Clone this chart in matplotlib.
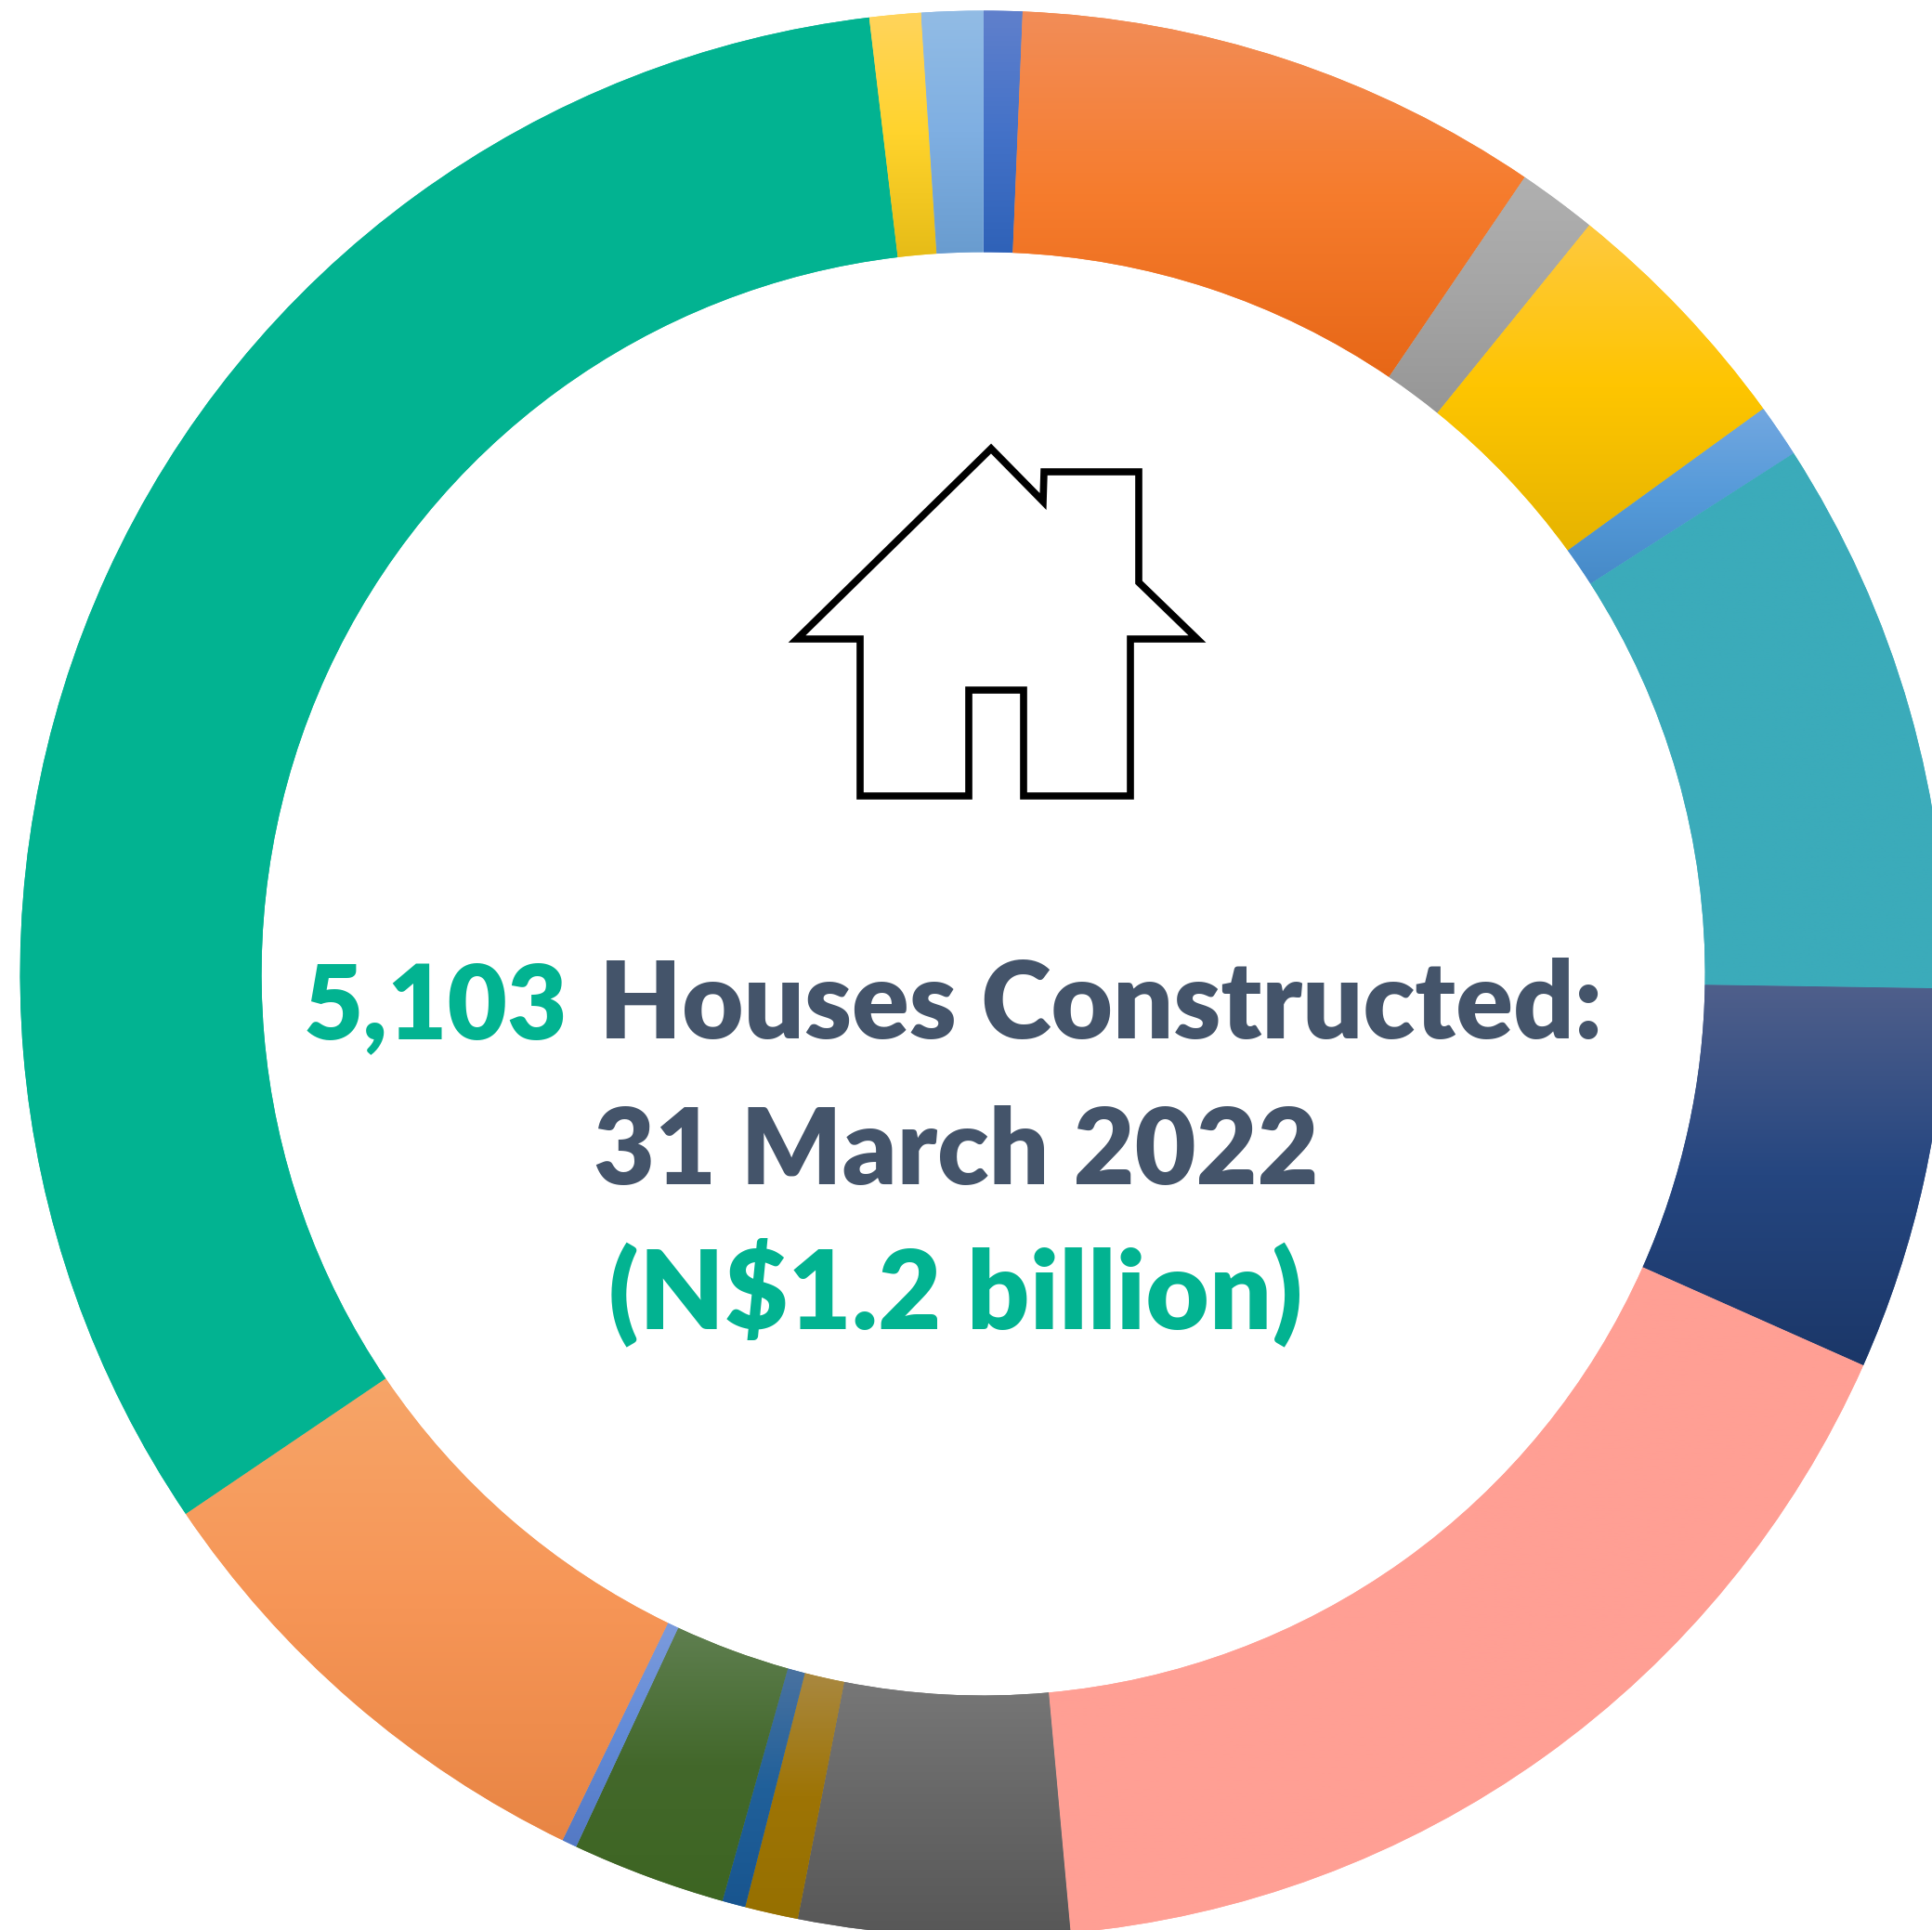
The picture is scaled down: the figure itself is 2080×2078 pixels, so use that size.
import numpy as np
from matplotlib import colors
from matplotlib import pyplot as plt

W, H = 2080, 2078
CX, CY, R = 1058.6, 1048.5, 1037.0
RING = 260.0 / R

plt.rcParams["font.family"] = ["Lato", "DejaVu Sans"]

# share of each ring segment in percent, clockwise from the top
shares = [0.65, 8.85, 1.33, 4.19, 0.89, 9.33, 6.42, 16.89, 4.53,
          0.89, 0.39, 2.58, 0.25, 8.33, 32.58, 0.86, 1.03]

# vertical gradient of each segment
tops = ["#6080CC", "#F28D58", "#B0B0B0", "#FFC93F", "#72A7E0", "#3BABBA",
        "#4F5F8B", "#FF9F94", "#777777", "#A98840", "#4A72A0", "#5F7F50",
        "#7C9BDC", "#F7A568", "#02B391", "#FFD45C", "#92BCE5"]
mids = ["#4472C8", "#F67C2D", "#A5A5A5", "#FEC500", "#559AD9", "#3BABBA",
        "#254680", "#FF9F94", "#666666", "#9E7405", "#20609A", "#43682B",
        "#628BD8", "#F69556", "#02B391", "#FFD32C", "#7FAFE2"]
bottoms = ["#2F62B8", "#E76717", "#969696", "#E6B400", "#468AC8", "#3BABBA",
           "#1B3768", "#FF9F94", "#575757", "#967000", "#18558F", "#3D6522",
           "#5479C4", "#E88544", "#02B391", "#E6BC17", "#699CCF"]

# outline of the house icon, in image pixels
house_x = [858, 1067, 1123, 1124, 1226, 1226, 1289, 1217, 1217, 1102, 1102,
           1043, 1043, 926, 926]
house_y = [688, 483, 540, 508, 508, 627, 688, 688, 857, 857, 743, 743, 857,
           857, 688]

GREEN = "#02B391"
SLATE = "#44546A"


def to_data(px, py):
    return (np.asarray(px) - CX) / R, (CY - np.asarray(py)) / R


fig = plt.figure(figsize=(W / 100, H / 100), dpi=100)
ax = fig.add_axes([0, 0, 1, 1])

wedges, _ = ax.pie(
    shares,
    colors=mids,
    startangle=90,
    counterclock=False,
    radius=1,
    wedgeprops={"width": RING, "linewidth": 0},
)

# fill each wedge with its own gradient, running over the wedge's height
for wedge, top, mid, bottom in zip(wedges, tops, mids, bottoms):
    # last vertex of a wedge path is the closing point at the centre
    verts = wedge.get_path().vertices[:-1]
    cmap = colors.LinearSegmentedColormap.from_list("seg", [top, mid, bottom])
    im = ax.imshow(
        np.linspace(0, 1, 256)[:, None],
        cmap=cmap,
        extent=[verts[:, 0].min(), verts[:, 0].max(), verts[:, 1].min(), verts[:, 1].max()],
        origin="upper",
        aspect="auto",
        zorder=2,
    )
    im.set_clip_path(wedge)

hx, hy = to_data(house_x, house_y)
ax.fill(hx, hy, fill=False, edgecolor="black", lw=5.5, joinstyle="miter", zorder=3)

ax.set_xlim(-CX / R, (W - CX) / R)
ax.set_ylim((CY - H) / R, CY / R)
ax.set_aspect("auto")
ax.axis("off")

x, y = to_data(327, 1118)
ax.text(x, y, "5,103", color=GREEN, fontsize=80, fontweight=800, ha="left", va="baseline", zorder=4)
x, y = to_data(645, 1118)
ax.text(x, y, "Houses Constructed:", color=SLATE, fontsize=82.5, fontweight=800, ha="left", va="baseline", zorder=4)
x, y = to_data(1029, 1275)
ax.text(x, y, "31 March 2022", color=SLATE, fontsize=82, fontweight=800, ha="center", va="baseline", zorder=4)
x, y = to_data(1029, 1430)
ax.text(x, y, "(N$1.2 billion)", color=GREEN, fontsize=85, fontweight=800, ha="center", va="baseline", zorder=4, parse_math=False)

fig.savefig("out.png", dpi=100)
